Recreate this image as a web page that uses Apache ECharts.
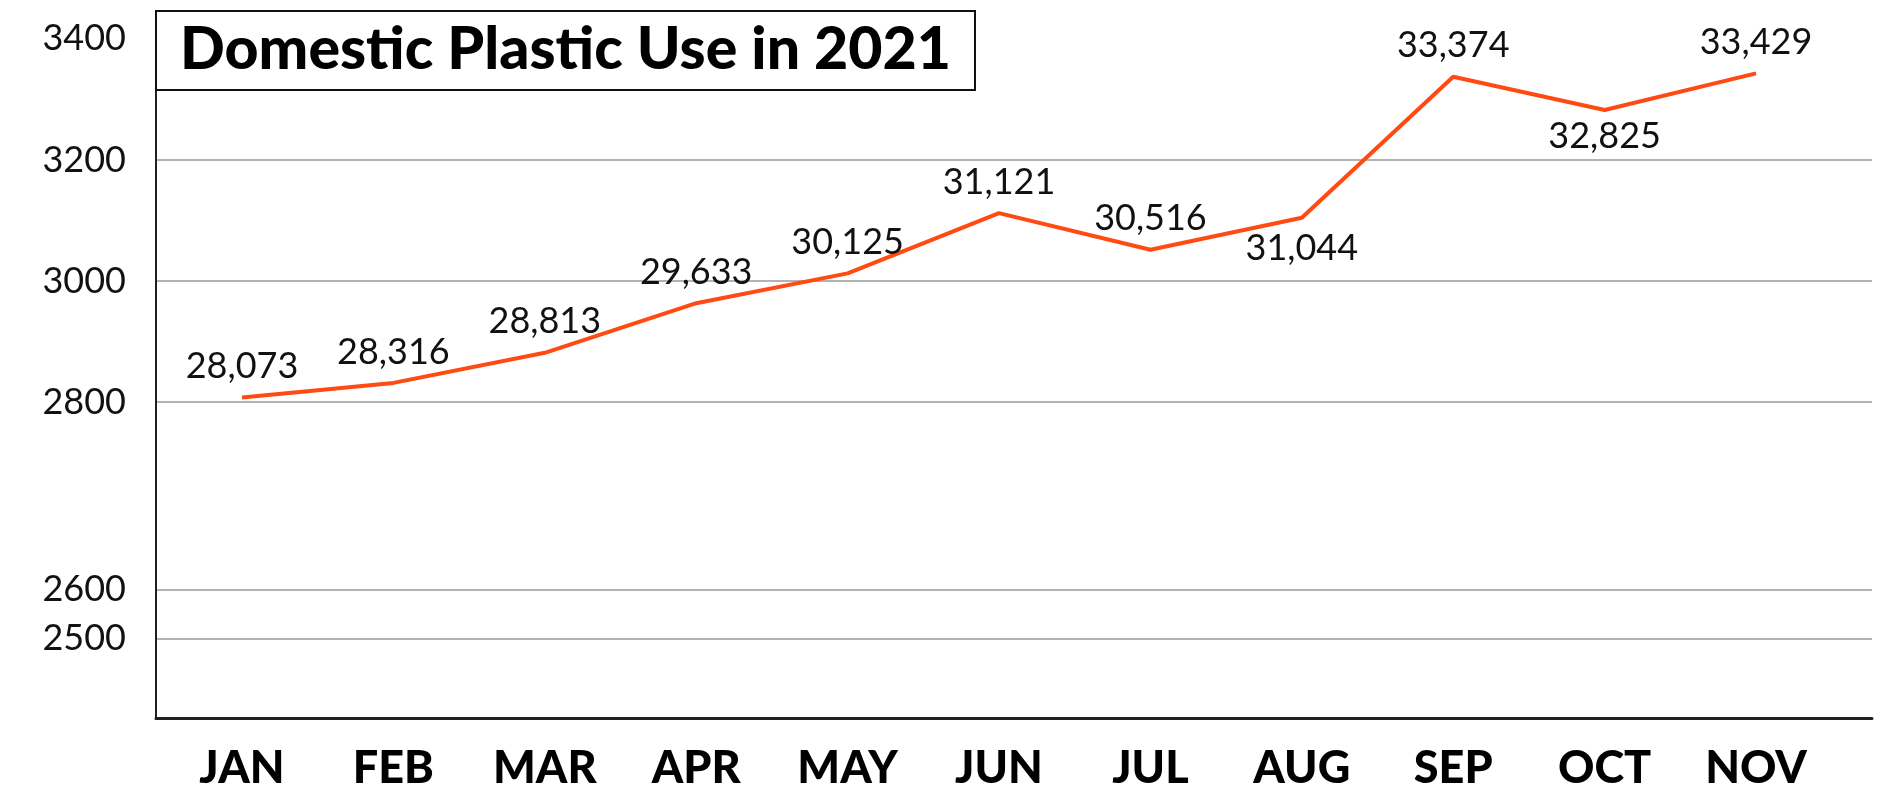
<!DOCTYPE html>
<html>
<head>
<meta charset="utf-8">
<style>
  html, body { margin: 0; padding: 0; background: #fff; }
  #chart { width: 1881px; height: 791px; }
</style>
<script src="https://cdn.jsdelivr.net/npm/echarts@6/dist/echarts.min.js"></script>
</head>
<body>
<div id="chart"></div>
<script>
// Monthly domestic plastic use, 2021
const months = ['JAN', 'FEB', 'MAR', 'APR', 'MAY', 'JUN', 'JUL', 'AUG', 'SEP', 'OCT', 'NOV'];
const plasticUse = [28073, 28316, 28813, 29633, 30125, 31121, 30516, 31044, 33374, 32825, 33429];
const yTickLabels = [2500, 2600, 2800, 3000, 3200, 3400];
const labelsBelow = ['AUG', 'OCT'];

// Vertical scale: linear above 2800, with stretched/compressed bands below it.
const bands = [[2500, 2409], [2600, 2490], [2800, 2800]];
function toAxis(v) {
  if (v >= 2800) return v;
  for (let i = bands.length - 1; i > 0; i--) {
    const [v0, t0] = bands[i - 1], [v1, t1] = bands[i];
    if (v >= v0) return t0 + (v - v0) * (t1 - t0) / (v1 - v0);
  }
  const [v0, t0] = bands[0], [v1, t1] = bands[1];
  return t0 + (v - v0) * (t1 - t0) / (v1 - v0);
}
function fromAxis(t) {
  if (t >= 2800) return t;
  for (let i = bands.length - 1; i > 0; i--) {
    const [v0, t0] = bands[i - 1], [v1, t1] = bands[i];
    if (t >= t0) return v0 + (t - t0) * (v1 - v0) / (t1 - t0);
  }
  const [v0, t0] = bands[0], [v1, t1] = bands[1];
  return v0 + (t - t0) * (v1 - v0) / (t1 - t0);
}

const labelFont = 'Lato, "Open Sans", sans-serif';
const gridTicks = yTickLabels.filter(v => v < 3400).map(toAxis);
const labelTicks = yTickLabels.map(toAxis);

const chart = echarts.init(document.getElementById('chart'), null, { renderer: 'canvas' });
chart.setOption({
  animation: false,
  backgroundColor: '#ffffff',
  title: {
    text: 'Domestic Plastic Use in 2021',
    left: 156,
    top: 11,
    padding: [9, 24, 10, 24],
    backgroundColor: '#ffffff',
    borderColor: '#111111',
    borderWidth: 2,
    textStyle: {
      fontFamily: labelFont,
      fontSize: 59,
      fontWeight: 900,
      color: '#000000',
      lineHeight: 60
    },
    z: 10
  },
  grid: { left: 156, right: 9, top: 11, bottom: 72, containLabel: false },
  xAxis: {
    type: 'value',
    min: -0.568,
    max: 10.766,
    axisLine: { show: true, onZero: false, lineStyle: { color: '#231f20', width: 3 } },
    axisTick: { show: false },
    splitLine: { show: false },
    axisLabel: {
      customValues: months.map((m, i) => i),
      formatter: v => months[Math.round(v)],
      margin: 28,
      fontFamily: labelFont,
      fontSize: 45,
      fontWeight: 900,
      color: '#000000'
    }
  },
  yAxis: {
    type: 'value',
    min: 2278,
    max: 3446,
    axisLine: { show: true, onZero: false, lineStyle: { color: '#231f20', width: 2 } },
    axisTick: { show: false, customValues: gridTicks },
    splitLine: { show: true, lineStyle: { color: '#9a9a9a', width: 1.5 } },
    axisLabel: {
      customValues: labelTicks,
      formatter: t => String(Math.round(fromAxis(t))),
      margin: 30,
      fontFamily: labelFont,
      fontSize: 36,
      fontWeight: 400,
      color: '#111111'
    }
  },
  series: [{
    type: 'line',
    data: plasticUse.map((v, i) => ({
      value: [i, toAxis(v / 10)],
      label: labelsBelow.includes(months[i])
        ? { position: 'bottom', distance: months[i] === 'OCT' ? 8 : 13 }
        : { position: 'top', distance: 13 }
    })),
    showSymbol: true,
    symbol: 'circle',
    symbolSize: 0,
    lineStyle: { color: '#ff4a12', width: 4 },
    itemStyle: { color: '#ff4a12' },
    label: {
      show: true,
      formatter: p => plasticUse[p.dataIndex].toLocaleString('en-US'),
      fontFamily: labelFont,
      fontSize: 36,
      fontWeight: 400,
      color: '#111111'
    },
    z: 3
  }]
});
</script>
</body>
</html>
